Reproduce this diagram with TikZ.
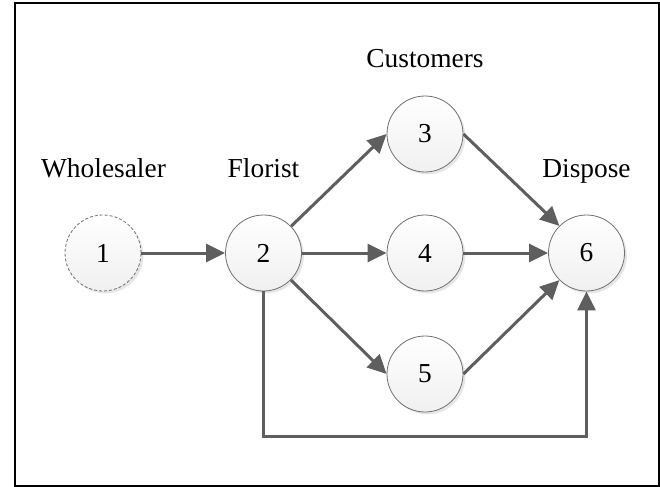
\documentclass[tikz,border=0pt]{standalone}
\usepackage{fontspec}
\setmainfont{Liberation Serif}
\usetikzlibrary{arrows.meta,shadows}

\definecolor{edgegray}{HTML}{5E5E5E}
\definecolor{rimgray}{HTML}{707070}

\begin{document}
\begin{tikzpicture}[x=0.5pt, y=-0.5pt, >={Triangle[length=9.5pt, width=9pt]},
  default/.style={draw=rimgray, thin, solid, circle, minimum size=38pt, inner sep=0pt,
    top color=white, bottom color=black!6,
    drop shadow={opacity=0.2, shadow xshift=1.2pt, shadow yshift=-1.2pt},
    font=\fontsize{13.7}{16}\selectfont},
  flow/.style={draw=edgegray, line width=1.5pt, ->},
  caption/.style={anchor=base, font=\fontsize{13.7}{16}\selectfont}]
\useasboundingbox (0, 0) rectangle (660, 487);
\draw [line width=1pt] (15, 3) rectangle (658.5, 486);
\node[default, dashed, dash pattern=on 1.5pt off 1pt] (n1) at (103, 253) {1};
\node[default] (n2) at (263.5, 253) {2};
\node[default] (n3) at (425, 134) {3};
\node[default] (n4) at (425, 253) {4};
\node[default] (n5) at (425, 374) {5};
\node[default] (n6) at (586.5, 253) {6};
\node[caption] (wholesaler) at (103.5, 177) {Wholesaler};
\node[caption] (florist) at (263.5, 177) {Florist};
\node[caption] (customers) at (425, 68) {Customers};
\node[caption] (dispose) at (586.5, 177) {Dispose};
\coordinate (corner) at (263.5, 436);
\draw [flow] (n1) -- (n2);
\draw [flow] (n2) -- (n3.west);
\draw [flow] (n2) -- (n4);
\draw [flow] (n2) -- (n5.west);
\draw [flow] (n3.east) -- (n6.north west);
\draw [flow] (n4) -- (n6);
\draw [flow] (n5.east) -- (n6.south west);
\draw [flow] (n2.south) -- (corner) -| (n6.south);
\end{tikzpicture}
\end{document}
